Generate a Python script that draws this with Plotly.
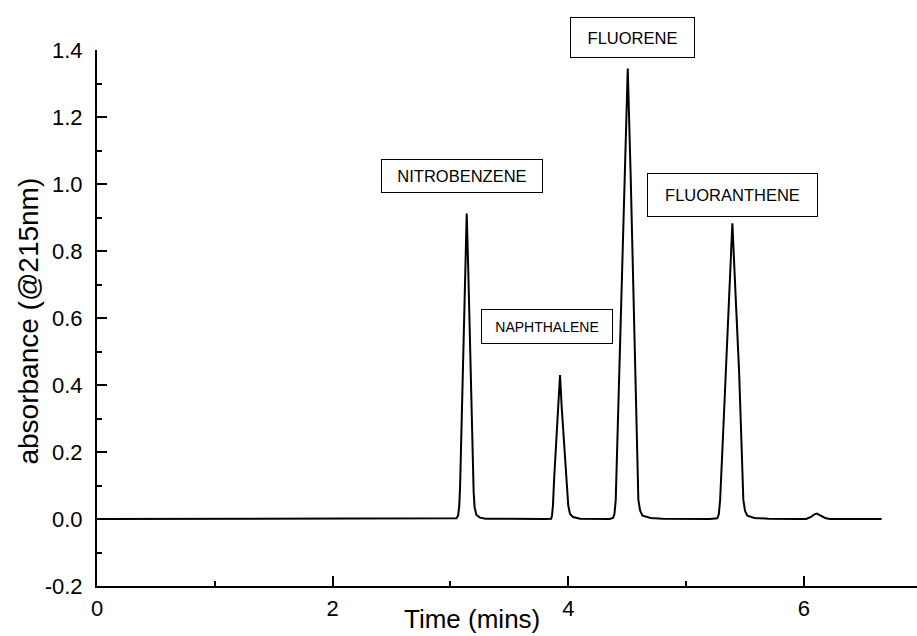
import plotly.graph_objects as go

# Chromatogram trace (time in minutes, absorbance)
time_min = [0.00, 1.00, 2.00, 3.00,
            3.050, 3.065, 3.075, 3.082, 3.095, 3.110, 3.125, 3.138, 3.150, 3.162, 3.175, 3.188, 3.197, 3.205, 3.220, 3.250, 3.300,
            3.800, 3.855, 3.862, 3.870, 3.880, 3.896, 3.913, 3.930, 3.945, 3.967, 3.985, 4.000, 4.015, 4.040, 4.100,
            4.350, 4.380, 4.392, 4.403, 4.420, 4.446, 4.475, 4.505, 4.530, 4.553, 4.575, 4.595, 4.610, 4.630, 4.700, 4.800,
            5.200, 5.265, 5.278, 5.289, 5.310, 5.337, 5.365, 5.393, 5.420, 5.450, 5.470, 5.486, 5.500, 5.520, 5.580, 5.700,
            5.950, 6.020, 6.060, 6.090, 6.110, 6.140, 6.180, 6.220, 6.660]
absorbance = [0.000, 0.000, 0.000, 0.000,
              0.002, 0.010, 0.040, 0.100, 0.280, 0.500, 0.720, 0.912, 0.760, 0.580, 0.400, 0.200, 0.080, 0.035, 0.012, 0.004, 0.001,
              0.000, 0.001, 0.010, 0.040, 0.120, 0.215, 0.320, 0.430, 0.330, 0.215, 0.110, 0.040, 0.015, 0.006, 0.001,
              0.000, 0.003, 0.015, 0.057, 0.280, 0.650, 1.000, 1.345, 1.020, 0.670, 0.330, 0.057, 0.025, 0.010, 0.003, 0.001,
              0.000, 0.002, 0.015, 0.057, 0.220, 0.440, 0.660, 0.883, 0.670, 0.440, 0.230, 0.057, 0.025, 0.010, 0.003, 0.001,
              0.000, 0.000, 0.006, 0.014, 0.016, 0.010, 0.003, 0.000, 0.000]

# Peak labels (text, label x in minutes, label height as a fraction of the plot area)
peak_names = ["NITROBENZENE", "NAPHTHALENE", "FLUORENE", "FLUORANTHENE"]
label_x = [3.096, 3.817, 4.542, 5.390]
label_y_frac = [0.765, 0.484, 1.0235, 0.7295]
label_box_w = [162, 132, 125, 171]
label_box_h = [34, 35, 41, 44]
label_font = [16.5, 14, 16.5, 16.5]

y_tickvals = [-0.2, 0.0, 0.2, 0.4, 0.6, 0.8, 1.0, 1.2, 1.4]
y_ticktext = ["-0.2", "0.0", "0.2", "0.4", "0.6", "0.8", "1.0", "1.2", "1.4"]
x_tickvals = [0, 2, 4, 6]
x_ticktext = ["0", "2", "4", "6"]

FONT = "Liberation Sans, Arial, sans-serif"

fig = go.Figure()
fig.add_trace(go.Scatter(x=time_min, y=absorbance, mode="lines",
                         line=dict(color="black", width=2), showlegend=False,
                         hoverinfo="skip"))

for name, lx, ly, bw, bh, fs in zip(peak_names, label_x, label_y_frac, label_box_w, label_box_h, label_font):
    fig.add_annotation(x=lx, y=ly, xref="x", yref="paper", text=name, showarrow=False,
                       xanchor="center", yanchor="middle",
                       width=bw - 2, height=bh - 2, borderpad=0,
                       bordercolor="black", borderwidth=1, bgcolor="white",
                       font=dict(family=FONT, size=fs, color="black"))

fig.add_annotation(x=-0.0841, y=0.4935, xref="paper", yref="paper",
                   text="absorbance (@215nm)", textangle=-90, showarrow=False,
                   xanchor="center", yanchor="middle",
                   font=dict(family=FONT, size=28, color="black"))
fig.add_annotation(x=0.4573, y=-0.0616, xref="paper", yref="paper",
                   text="Time (mins)", showarrow=False,
                   xanchor="center", yanchor="middle",
                   font=dict(family=FONT, size=26, color="black"))

fig.update_layout(
    width=917, height=636,
    margin=dict(l=97, r=0, t=50, b=50),
    plot_bgcolor="white", paper_bgcolor="white",
    font=dict(family=FONT, color="black"),
)
fig.update_xaxes(range=[0, 6.96], showgrid=False, zeroline=False,
                 showline=True, linecolor="black", linewidth=2,
                 tickmode="array", tickvals=x_tickvals, ticktext=x_ticktext,
                 ticks="inside", ticklen=10, tickwidth=2, tickcolor="black",
                 ticklabelstandoff=2,
                 minor=dict(tickmode="linear", tick0=0, dtick=1, ticks="inside",
                            ticklen=5, tickwidth=2, tickcolor="black", showgrid=False),
                 tickfont=dict(family=FONT, size=22, color="black"))
fig.update_yaxes(range=[-0.2, 1.4], showgrid=False, zeroline=False,
                 showline=True, linecolor="black", linewidth=2,
                 tickmode="array", tickvals=y_tickvals, ticktext=y_ticktext,
                 ticks="inside", ticklen=10, tickwidth=2, tickcolor="black",
                 ticklabelstandoff=8,
                 minor=dict(tickmode="linear", tick0=0, dtick=0.1, ticks="inside",
                            ticklen=5, tickwidth=2, tickcolor="black", showgrid=False),
                 tickfont=dict(family=FONT, size=22, color="black"))

fig.write_html("out.html")
